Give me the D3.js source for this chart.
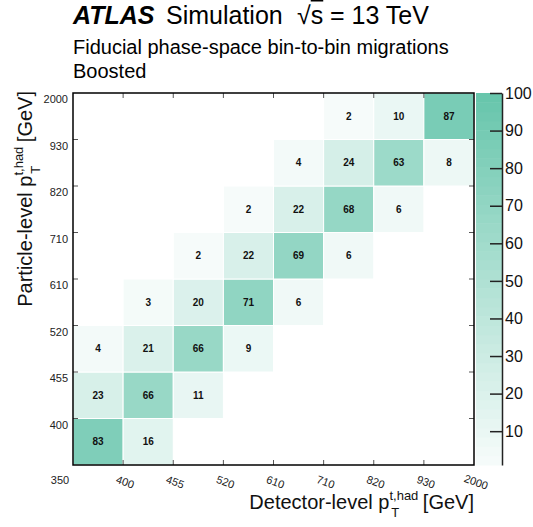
<!DOCTYPE html>
<html>
<head>
<meta charset="utf-8">
<script src="https://cdn.jsdelivr.net/npm/d3@7"></script>
<style>
  body { margin: 0; background: #fff; }
  svg { font-family: "Liberation Sans", Arial, Helvetica, sans-serif; }
</style>
</head>
<body>
<div id="canvas"></div>
<script>
var width = 533,
	height = 527;

// bin edges (GeV), shared by detector level (x) and particle level (y)
var binEdges = ["350", "400", "455", "520", "610", "710", "820", "930", "2000"];

// migration fractions in %, one row per particle-level bin (from lowest), columns = detector-level bins
var migrations = [
	[83, 16, 0, 0, 0, 0, 0, 0],
	[23, 66, 11, 0, 0, 0, 0, 0],
	[4, 21, 66, 9, 0, 0, 0, 0],
	[0, 3, 20, 71, 6, 0, 0, 0],
	[0, 0, 2, 22, 69, 6, 0, 0],
	[0, 0, 0, 2, 22, 68, 6, 0],
	[0, 0, 0, 0, 4, 24, 63, 8],
	[0, 0, 0, 0, 0, 2, 10, 87]
];

var zTicks = [10, 20, 30, 40, 50, 60, 70, 80, 90, 100];

var plot = {left: 73, right: 474, top: 93, bottom: 465};
var nBins = binEdges.length - 1;

var svg = d3.select("#canvas").append("svg")
	.attr("width", width)
	.attr("height", height)

var x = d3.scaleLinear().domain([0, nBins]).range([plot.left, plot.right]);
var y = d3.scaleLinear().domain([0, nBins]).range([plot.bottom, plot.top]);
var z = d3.scaleLinear().domain([1, 100]).range([plot.bottom, plot.top]);

var color = d3.scaleLinear()
	.domain([1, 100])
	.range(["#f7fcfb", "#66c5ab"])
	.interpolate(d3.interpolateRgb)
	.clamp(true);

// flatten the matrix into cells
var cells = [];
migrations.forEach(function(row, j){
	row.forEach(function(v, i){
		if(v > 0) cells.push({i: i, j: j, v: v});
	});
});

var cell = svg.append("g").selectAll("g")
	.data(cells)
	.enter()
	.append("g");

cell.append("rect")
	.attr("x", function(d){ return x(d.i); })
	.attr("y", function(d){ return y(d.j + 1); })
	.attr("width", function(d){ return x(d.i + 1) - x(d.i); })
	.attr("height", function(d){ return y(d.j) - y(d.j + 1); })
	.attr("fill", function(d){ return color(d.v); })
	.attr("stroke", "#fff")
	.attr("stroke-width", 1);

cell.append("text")
	.attr("x", function(d){ return (x(d.i) + x(d.i + 1)) / 2; })
	.attr("y", function(d){ return (y(d.j) + y(d.j + 1)) / 2; })
	.attr("dy", "0.35em")
	.attr("text-anchor", "middle")
	.style("font-size", "10px")
	.style("font-weight", "bold")
	.attr("fill", "#111")
	.text(function(d){ return d.v; });

// frame ticks at bin edges
var edgeIdx = d3.range(1, nBins);
var ticks = svg.append("g").attr("stroke", "#555").attr("stroke-width", 1);
edgeIdx.forEach(function(k){
	ticks.append("line").attr("x1", x(k)).attr("x2", x(k)).attr("y1", plot.bottom).attr("y2", plot.bottom - 5);
	ticks.append("line").attr("x1", x(k)).attr("x2", x(k)).attr("y1", plot.top).attr("y2", plot.top + 5);
	ticks.append("line").attr("y1", y(k)).attr("y2", y(k)).attr("x1", plot.left).attr("x2", plot.left + 5);
	ticks.append("line").attr("y1", y(k)).attr("y2", y(k)).attr("x1", plot.right).attr("x2", plot.right - 5);
});

svg.append("rect")
	.attr("x", plot.left)
	.attr("y", plot.top)
	.attr("width", plot.right - plot.left)
	.attr("height", plot.bottom - plot.top)
	.attr("fill", "none")
	.attr("stroke", "#000")
	.attr("stroke-width", 1.5);

// y tick labels (particle level)
svg.append("g").selectAll("text")
	.data(binEdges.slice(1))
	.enter()
	.append("text")
	.attr("x", plot.left - 5)
	.attr("y", function(d, k){ return y(k + 1) + 6.5; })
	.attr("dy", "0.35em")
	.attr("text-anchor", "end")
	.style("font-size", "11px")
	.attr("fill", "#222")
	.text(function(d){ return d; });

// x tick labels (detector level), first one flat, others tilted
svg.append("text")
	.attr("x", x(0) - 13)
	.attr("y", 484)
	.attr("text-anchor", "middle")
	.style("font-size", "11px")
	.attr("fill", "#222")
	.text(binEdges[0]);

svg.append("g").selectAll("text")
	.data(binEdges.slice(1))
	.enter()
	.append("text")
	.attr("transform", function(d, k){ return "translate(" + (x(k + 1) + 2) + ",482) rotate(20)"; })
	.attr("dy", "0.35em")
	.attr("text-anchor", "middle")
	.style("font-size", "11px")
	.attr("fill", "#222")
	.text(function(d){ return d; });

// colour bar
var cb = {left: 476, right: 502};
var bands = d3.range(0, 40);
var bandStep = 99 / bands.length;
svg.append("g").selectAll("rect")
	.data(bands)
	.enter()
	.append("rect")
	.attr("x", cb.left)
	.attr("width", cb.right - cb.left)
	.attr("y", function(b){ return z(1 + (b + 1) * bandStep); })
	.attr("height", function(b){ return z(1 + b * bandStep) - z(1 + (b + 1) * bandStep) + 0.5; })
	.attr("fill", function(b){ return color(1 + (b + 0.5) * bandStep); });

var zAxis = svg.append("g")
	.attr("transform", "translate(" + cb.right + ",0)")
	.call(d3.axisRight(z).tickValues(zTicks).tickSizeInner(-12).tickSizeOuter(0).tickPadding(3));
zAxis.select(".domain").attr("stroke", "#222").attr("stroke-width", 1.5);
zAxis.selectAll(".tick line").attr("stroke", "#222").attr("stroke-width", 1.5);
zAxis.selectAll(".tick text")
	.style("font-size", "16px")
	.style("font-family", "'Liberation Sans', Arial, sans-serif")
	.attr("fill", "#111");

// axis titles
var xTitle = svg.append("text")
	.attr("x", plot.right)
	.attr("y", 509)
	.attr("text-anchor", "end")
	.style("font-size", "20px")
	.attr("fill", "#111");
xTitle.append("tspan").text("Detector-level p");
xTitle.append("tspan").attr("dy", -9).style("font-size", "13px").text("t,had");
xTitle.append("tspan").attr("dx", -27).attr("dy", 17).style("font-size", "13px").text("T");
xTitle.append("tspan").attr("dx", 18).attr("dy", -8).text(" [GeV]");

var yTitle = svg.append("text")
	.attr("transform", "translate(32," + (plot.top - 2) + ") rotate(-90)")
	.attr("text-anchor", "end")
	.style("font-size", "20px")
	.attr("fill", "#111");
yTitle.append("tspan").text("Particle-level p");
yTitle.append("tspan").attr("dy", -9).style("font-size", "13px").text("t,had");
yTitle.append("tspan").attr("dx", -27).attr("dy", 17).style("font-size", "13px").text("T");
yTitle.append("tspan").attr("dx", 18).attr("dy", -8).text(" [GeV]");

// header
var head = svg.append("text")
	.attr("y", 24)
	.style("font-size", "25px")
	.attr("fill", "#000");
head.append("tspan").attr("x", plot.left).style("font-weight", "bold").style("font-style", "italic").text("ATLAS");
head.append("tspan").attr("x", 166).text("Simulation");
head.append("tspan").attr("x", 297).text("\u221A");
head.append("tspan").style("text-decoration", "overline").text("s");
head.append("tspan").attr("x", 330).text("= 13 TeV");

svg.append("text")
	.attr("x", plot.left)
	.attr("y", 54)
	.style("font-size", "20px")
	.attr("fill", "#000")
	.text("Fiducial phase-space bin-to-bin migrations");

svg.append("text")
	.attr("x", plot.left)
	.attr("y", 78)
	.style("font-size", "20px")
	.attr("fill", "#000")
	.text("Boosted");
</script>
</body>
</html>
